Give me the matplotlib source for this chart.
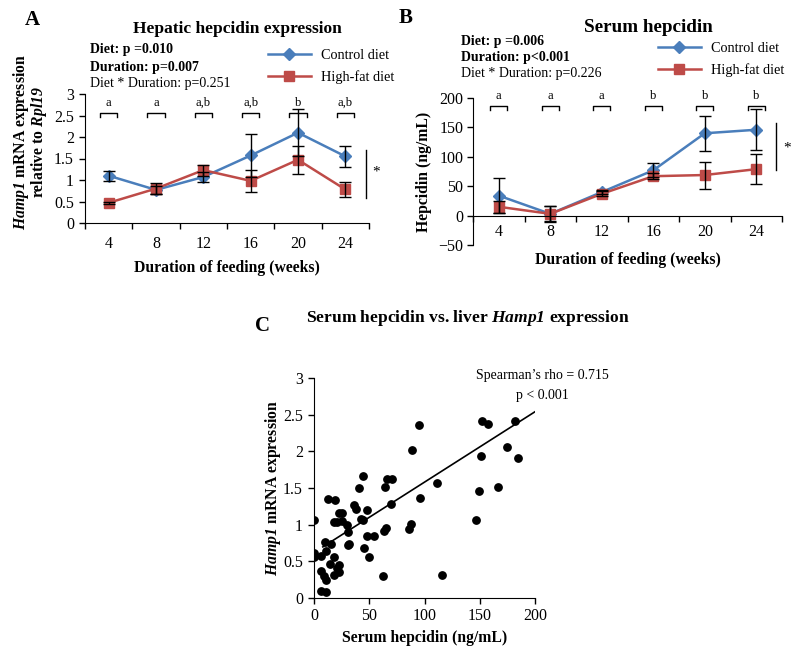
import matplotlib.pyplot as plt
import matplotlib.ticker as mticker
import numpy as np

plt.rcParams['font.family'] = 'Liberation Serif'
plt.rcParams['mathtext.fontset'] = 'custom'
# only gene names go through mathtext, all bold italic (digits use the rm slot)
plt.rcParams['mathtext.it'] = 'Liberation Serif:italic:bold'
plt.rcParams['mathtext.rm'] = 'Liberation Serif:italic:bold'

W, H = 800, 658
BLUE = '#4A7EBB'
RED = '#BE4B48'

weeks = ['4', '8', '12', '16', '20', '24']

# A - hepatic Hamp1 mRNA (relative to Rpl19)
hamp_ctrl = [1.10, 0.77, 1.07, 1.57, 2.10, 1.55]
hamp_ctrl_err = [0.12, 0.10, 0.12, 0.50, 0.55, 0.25]
hamp_hfd = [0.47, 0.80, 1.23, 0.98, 1.47, 0.78]
hamp_hfd_err = [0.02, 0.13, 0.13, 0.26, 0.33, 0.17]
hamp_letters = ['a', 'a', 'a,b', 'a,b', 'b', 'a,b']

# B - serum hepcidin (ng/mL)
serum_ctrl = [34, 3, 40, 77, 140, 146]
serum_ctrl_err = [30, 13, 4, 12, 30, 35]
serum_hfd = [15, 3, 37, 67, 69, 79]
serum_hfd_err = [10, 14, 4, 5, 23, 26]
serum_letters = ['a', 'a', 'a', 'b', 'b', 'b']

# C - serum hepcidin vs liver Hamp1
scatter_serum = [0, 0, 0, 6.5, 6.3, 6.3, 11, 9.5, 10.5, 10.5, 10.3, 15, 14.5, 17.8,
                 18.5, 21, 22.5, 22.5, 18.4, 20.4, 22.8, 25.5, 25.2, 29.5, 31, 30.5,
                 31.5, 12.3, 19, 36, 37.8, 41, 44.2, 42.8, 44, 47.8, 47.6, 54, 45.5,
                 49.8, 62.4, 63.3, 64.8, 64.2, 66.3, 70.8, 69.4, 86.2, 88.2, 88.6,
                 94.8, 95.5, 111.7, 115.8, 146.5, 149.6, 151, 151.8, 157.3, 166.3,
                 175, 182.3, 185]
scatter_hamp = [1.06, 0.61, 0.56, 0.57, 0.37, 0.09, 0.08, 0.30, 0.25, 0.64, 0.76, 0.73,
                0.46, 0.56, 0.31, 0.41, 0.45, 0.36, 1.04, 1.03, 1.16, 1.16, 1.05, 1.00,
                0.90, 0.72, 0.73, 1.35, 1.33, 1.27, 1.21, 1.50, 1.67, 1.08, 1.06, 1.20,
                0.84, 0.84, 0.68, 0.56, 0.30, 0.91, 0.95, 1.52, 1.62, 1.62, 1.28, 0.94,
                1.01, 2.02, 2.36, 1.36, 1.57, 0.31, 1.07, 1.46, 1.93, 2.42, 2.37, 1.51,
                2.06, 2.42, 1.91]
# trendline as drawn in the figure
trend_slope = 0.0096
trend_intercept = 0.62
trend_range = [8, 200]

TICK_FS = 11.5
LABEL_FS = 11.3

fig = plt.figure(figsize=(W / 100, H / 100), dpi=100)


def px_axes(left, top, right, bottom):
    return fig.add_axes([left / W, 1 - bottom / H, (right - left) / W, (bottom - top) / H])


def fig_text(x, y, s, **kw):
    fig.text(x / W, 1 - y / H, s, **kw)


def style_axes(ax):
    ax.spines['top'].set_visible(False)
    ax.spines['right'].set_visible(False)
    ax.tick_params(direction='out', length=4, width=1, labelsize=TICK_FS, pad=3)


def line_panel(ax, ctrl, ctrl_err, hfd, hfd_err, letters, br_y, br_leg, let_y, br_w):
    x = np.arange(len(weeks))
    ax.plot(x, ctrl, color=BLUE, lw=1.8, marker='D', ms=6, label='Control diet', zorder=2)
    ax.plot(x, hfd, color=RED, lw=1.8, marker='s', ms=6.5, label='High-fat diet', zorder=2)
    ax.errorbar(x, ctrl, yerr=ctrl_err, fmt='none', ecolor='black', elinewidth=1,
                capsize=4, capthick=1, zorder=3)
    ax.errorbar(x, hfd, yerr=hfd_err, fmt='none', ecolor='black', elinewidth=1,
                capsize=4, capthick=1, zorder=3)
    for i, let in enumerate(letters):
        ax.plot([i - br_w, i - br_w, i + br_w, i + br_w],
                [br_y - br_leg, br_y, br_y, br_y - br_leg], color='black', lw=1, clip_on=False)
        ax.text(i, let_y, let, ha='center', va='center', fontsize=9)
    ax.set_xlim(-0.5, len(weeks) - 0.5)
    ax.set_xticks(np.arange(-0.5, len(weeks), 1))
    ax.set_xticklabels([])
    ax.xaxis.set_minor_locator(mticker.FixedLocator(x))
    ax.xaxis.set_minor_formatter(mticker.FixedFormatter(weeks))
    style_axes(ax)
    ax.tick_params(axis='x', which='minor', length=0, labelsize=TICK_FS)
    ax.legend(loc='upper left', frameon=False, fontsize=10.3, handlelength=3.0,
              handletextpad=0.7, labelspacing=0.55, borderpad=0, borderaxespad=0)


# ---- A ----
axA = px_axes(85, 94, 369, 223)
line_panel(axA, hamp_ctrl, hamp_ctrl_err, hamp_hfd, hamp_hfd_err, hamp_letters,
           2.56, 0.09, 2.80, 0.18)
axA.set_ylim(0, 3)
axA.set_yticks(np.arange(0, 3.01, 0.5))
axA.yaxis.set_major_formatter(mticker.FuncFormatter(lambda v, p: f'{v:g}'))
axA.tick_params(axis='y', pad=4)
axA.tick_params(axis='x', which='minor', pad=9)
axA.plot([5.43, 5.43], [0.58, 1.7], color='black', lw=1, clip_on=False)
axA.text(5.64, 1.18, '*', ha='center', va='center', fontsize=11, clip_on=False)
axA.set_xlabel('Duration of feeding (weeks)', fontsize=LABEL_FS, fontweight='bold')
axA.xaxis.set_label_coords(0.5, -0.29)
axA.set_ylabel(r'$\mathit{Hamp1}$ mRNA expression' + '\n' + r'relative to $\mathit{Rpl19}$',
               fontsize=LABEL_FS, fontweight='bold', linespacing=0.9)
axA.yaxis.set_label_coords(-0.125, 0.63)
axA.get_legend().set_bbox_to_anchor((268 / W, 1 - 49 / H), transform=fig.transFigure)

fig_text(32, 20, 'A', fontsize=15, fontweight='bold', ha='center', va='center')
fig_text(237, 29, 'Hepatic hepcidin expression', fontsize=12.5, fontweight='bold',
         ha='center', va='center')
fig_text(90, 50, 'Diet: p =0.010', fontsize=10, fontweight='bold', va='center')
fig_text(90, 67, 'Duration: p=0.007', fontsize=10, fontweight='bold', va='center')
fig_text(90, 83, 'Diet * Duration: p=0.251', fontsize=10, va='center')

# ---- B ----
axB = px_axes(473, 98, 782, 245)
line_panel(axB, serum_ctrl, serum_ctrl_err, serum_hfd, serum_hfd_err, serum_letters,
           186, 6, 203, 0.165)
axB.set_ylim(-50, 200)
axB.set_yticks(np.arange(-50, 201, 50))
axB.spines['bottom'].set_position(('data', 0))
axB.tick_params(axis='x', which='minor', pad=6)
axB.plot([5.38, 5.38], [78, 158], color='black', lw=1, clip_on=False)
axB.text(5.6, 115, '*', ha='center', va='center', fontsize=11, clip_on=False)
axB.set_xlabel('Duration of feeding (weeks)', fontsize=LABEL_FS, fontweight='bold')
axB.xaxis.set_label_coords(0.5, -0.05)
axB.set_ylabel('Hepcidin (ng/mL)', fontsize=LABEL_FS, fontweight='bold')
axB.yaxis.set_label_coords(-0.132, 0.5)
axB.get_legend().set_bbox_to_anchor((658 / W, 1 - 42 / H), transform=fig.transFigure)

fig_text(406, 18, 'B', fontsize=15, fontweight='bold', ha='center', va='center')
fig_text(648, 28, 'Serum hepcidin', fontsize=13.8, fontweight='bold', ha='center', va='center')
fig_text(461, 42, 'Diet: p =0.006', fontsize=10, fontweight='bold', va='center')
fig_text(461, 58, 'Duration: p<0.001', fontsize=10, fontweight='bold', va='center')
fig_text(461, 74, 'Diet * Duration: p=0.226', fontsize=10, va='center')

# ---- C ----
axC = px_axes(314, 378, 535, 598)
axC.scatter(scatter_serum, scatter_hamp, s=28, color='black', zorder=3)
tx = np.array(trend_range)
axC.plot(tx, trend_intercept + trend_slope * tx, color='black', lw=1.2)
axC.set_xlim(0, 200)
axC.set_ylim(0, 3)
axC.set_xticks(np.arange(0, 201, 50))
axC.set_yticks(np.arange(0, 3.01, 0.5))
axC.yaxis.set_major_formatter(mticker.FuncFormatter(lambda v, p: f'{v:g}'))
style_axes(axC)
axC.tick_params(axis='y', pad=4)
axC.set_xlabel('Serum hepcidin (ng/mL)', fontsize=LABEL_FS, fontweight='bold')
axC.xaxis.set_label_coords(0.5, -0.145)
axC.set_ylabel(r'$\mathit{Hamp1}$ mRNA expression', fontsize=LABEL_FS, fontweight='bold')
axC.yaxis.set_label_coords(-0.14, 0.5)

fig_text(542, 376, 'Spearman\u2019s rho = 0.715', fontsize=10, ha='center', va='center')
fig_text(542, 395, 'p < 0.001', fontsize=10, ha='center', va='center')
fig_text(263, 326, 'C', fontsize=15, fontweight='bold', ha='center', va='center')
fig_text(468, 318, r'Serum hepcidin vs. liver $\mathit{Hamp1}$ expression', fontsize=12.6,
         fontweight='bold', ha='center', va='center')

fig.savefig('out.png', dpi=100)
